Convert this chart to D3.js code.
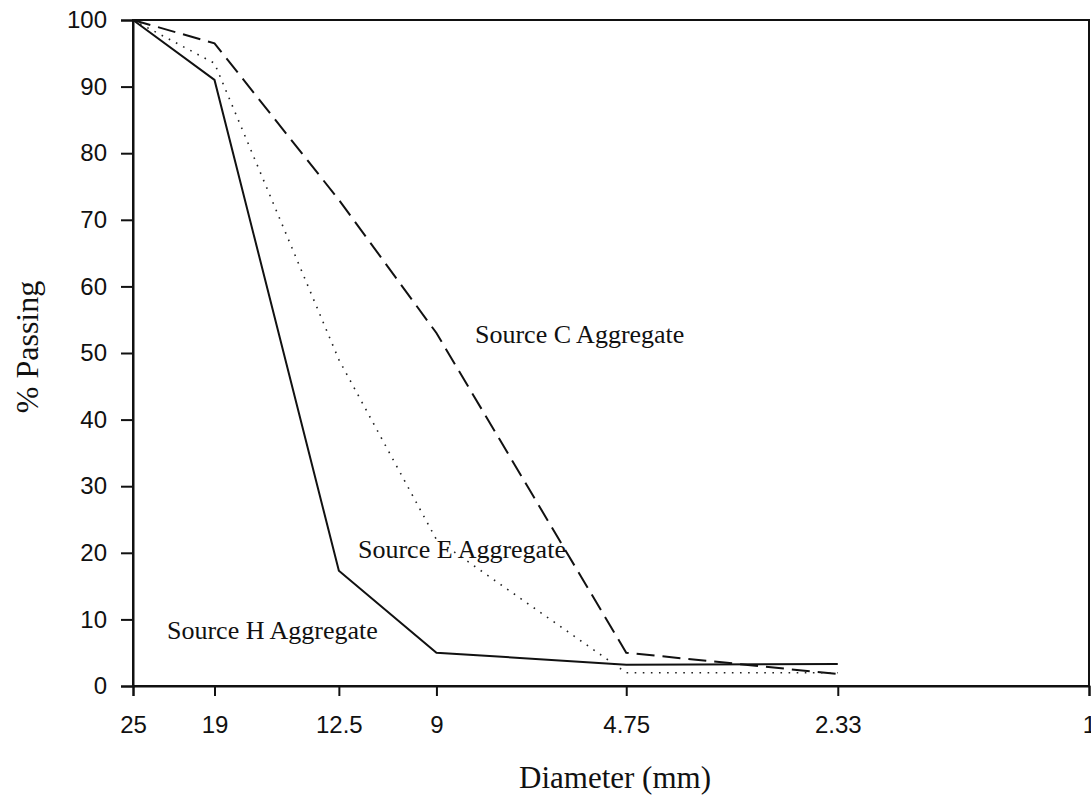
<!DOCTYPE html>
<html>
<head>
<meta charset="utf-8">
<script src="https://cdn.jsdelivr.net/npm/d3@7"></script>
<style>
  body { margin: 0; background: #fff; }
  svg { display: block; }
</style>
</head>
<body>
<svg width="1091" height="797"></svg>
<script>
// Sieve sizes (mm) and % passing
const sieveSizes = [25, 19, 12.5, 9, 4.75, 2.33];
const tickSizes = [25, 19, 12.5, 9, 4.75, 2.33, 1];
const sourceC = [100, 96.5, 73, 53, 5, 1.8];
const sourceE = [100, 93.5, 49, 22, 2, 2];
const sourceH = [100, 91, 17.3, 5, 3.2, 3.3];
const yTicks = [0, 10, 20, 30, 40, 50, 60, 70, 80, 90, 100];

let svg = d3.select("svg");

// log scale, largest sieve on the left
let x = d3.scaleLog().domain([25, 1]).range([133, 1089]);
let y = d3.scaleLinear().domain([0, 100]).range([686, 20]);

// frame
svg
  .append("rect")
  .attr("x", x(25))
  .attr("y", y(100))
  .attr("width", x(1) - x(25))
  .attr("height", y(0) - y(100))
  .style("fill", "none")
  .style("stroke", "#111")
  .style("stroke-width", 2);

let xAxis = d3
  .axisBottom(x)
  .tickValues(tickSizes)
  .tickFormat((d) => String(d))
  .tickSize(10)
  .tickPadding(20);

let yAxis = d3
  .axisLeft(y)
  .tickValues(yTicks)
  .tickSize(12)
  .tickPadding(14);

let gx = svg
  .append("g")
  .attr("transform", "translate(0, " + y(0) + ")")
  .call(xAxis);

let gy = svg
  .append("g")
  .attr("transform", "translate(" + x(25) + ", 0)")
  .call(yAxis);

[gx, gy].forEach((g) => {
  g.select(".domain").style("stroke", "#111").style("stroke-width", 2);
  g.selectAll(".tick line").style("stroke", "#111").style("stroke-width", 2);
  g.selectAll(".tick text")
    .style("font-family", "'Liberation Sans', Arial, sans-serif")
    .style("font-size", "24px")
    .style("fill", "#111");
});

// lines
let line = d3
  .line()
  .x((d) => x(d.x))
  .y((d) => y(d.y));

function series(values) {
  return sieveSizes.map((s, i) => ({ x: s, y: values[i] }));
}

svg
  .append("path")
  .datum(series(sourceC))
  .attr("d", line)
  .style("fill", "none")
  .style("stroke", "#111")
  .style("stroke-width", 2)
  .style("stroke-dasharray", "18,8");

svg
  .append("path")
  .datum(series(sourceE))
  .attr("d", line)
  .style("fill", "none")
  .style("stroke", "#222")
  .style("stroke-width", 1.6)
  .style("stroke-dasharray", "1.6,6.5");

svg
  .append("path")
  .datum(series(sourceH))
  .attr("d", line)
  .style("fill", "none")
  .style("stroke", "#111")
  .style("stroke-width", 2);

// labels
const serif = "'Liberation Serif', 'Times New Roman', serif";

function note(txt, px, py) {
  svg
    .append("text")
    .attr("x", px)
    .attr("y", py)
    .text(txt)
    .style("font-family", serif)
    .style("font-size", "26px")
    .style("fill", "#111");
}
note("Source C Aggregate", 475, 343);
note("Source E Aggregate", 358, 558);
note("Source H Aggregate", 167, 639);

svg
  .append("text")
  .attr("x", 615)
  .attr("y", 788)
  .attr("text-anchor", "middle")
  .text("Diameter (mm)")
  .style("font-family", serif)
  .style("font-size", "31px")
  .style("fill", "#111");

svg
  .append("text")
  .attr("transform", "translate(38, 347) rotate(-90)")
  .attr("text-anchor", "middle")
  .text("% Passing")
  .style("font-family", serif)
  .style("font-size", "32px")
  .style("fill", "#111");
</script>
</body>
</html>
